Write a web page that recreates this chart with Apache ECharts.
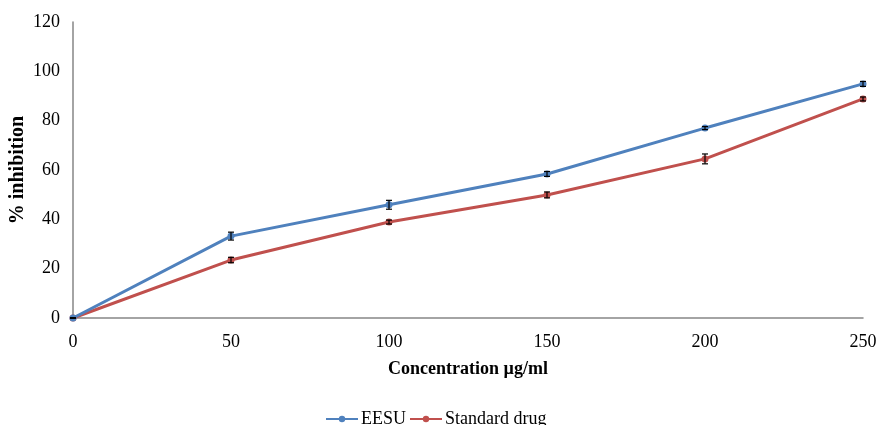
<!DOCTYPE html>
<html>
<head>
<meta charset="utf-8">
<script src="https://cdn.jsdelivr.net/npm/echarts@6/dist/echarts.min.js"></script>
<style>html,body{margin:0;padding:0;background:#fff}#c{width:876px;height:425px}</style>
</head>
<body>
<div id="c"></div>
<script>
var concentrations = [0, 50, 100, 150, 200, 250];
var eesuValues = [0, 33.2, 45.9, 58.4, 77.0, 94.9];
var eesuErrors = [0, 1.6, 1.8, 1.0, 0.6, 1.0];
var stdValues = [0, 23.5, 38.9, 49.9, 64.5, 88.8];
var stdErrors = [0, 1.1, 0.8, 1.2, 2.0, 0.8];
var yTicks = [0, 20, 40, 60, 80, 100, 120];
var xTicks = [0, 50, 100, 150, 200, 250];

var FONT = '"Liberation Serif", "Times New Roman", serif';
var chart = echarts.init(document.getElementById('c'));

function pairs(vals) { return concentrations.map(function (x, i) { return [x, vals[i]]; }); }
function errData(vals, errs) { return concentrations.map(function (x, i) { return [x, vals[i] - errs[i], vals[i] + errs[i]]; }); }
function errRender(params, api) {
  var x = api.value(0);
  var lo = api.coord([x, api.value(1)]);
  var hi = api.coord([x, api.value(2)]);
  var w = 3;
  var st = { stroke: '#000', lineWidth: 1.2 };
  return {
    type: 'group',
    children: [
      { type: 'line', shape: { x1: lo[0], y1: lo[1], x2: hi[0], y2: hi[1] }, style: st },
      { type: 'line', shape: { x1: lo[0] - w, y1: lo[1], x2: lo[0] + w, y2: lo[1] }, style: st },
      { type: 'line', shape: { x1: hi[0] - w, y1: hi[1], x2: hi[0] + w, y2: hi[1] }, style: st }
    ]
  };
}

chart.setOption({
  animation: false,
  backgroundColor: '#fff',
  grid: { left: 73, right: 13, top: 22, bottom: 107, containLabel: false, outerBoundsMode: 'none' },
  legend: {
    top: 405,
    left: 320,
    itemWidth: 32,
    itemHeight: 8,
    itemGap: 3,
    data: ['EESU', 'Standard drug'],
    textStyle: { fontFamily: FONT, fontSize: 18, color: '#000', padding: [0, 0, 0, -2] }
  },
  xAxis: {
    type: 'value',
    min: 0, max: 250, interval: 50,
    name: 'Concentration µg/ml',
    nameLocation: 'middle',
    nameGap: 42,
    nameMoveOverlap: false,
    nameTextStyle: { fontFamily: FONT, fontSize: 18, fontWeight: 'bold', color: '#000' },
    axisLine: { show: true, lineStyle: { color: '#868686', width: 1.5 } },
    axisTick: { show: false },
    splitLine: { show: false },
    axisLabel: {
      fontFamily: FONT, fontSize: 18, color: '#000', margin: 15,
      formatter: function (v) { return xTicks.indexOf(v) >= 0 ? String(v) : ''; }
    }
  },
  yAxis: {
    type: 'value',
    min: 0, max: 120, interval: 20,
    name: '% inhibition',
    nameLocation: 'middle',
    nameGap: 45,
    nameMoveOverlap: false,
    nameTextStyle: { fontFamily: FONT, fontSize: 20, fontWeight: 'bold', color: '#000' },
    axisLine: { show: true, lineStyle: { color: '#868686', width: 1.5 } },
    axisTick: { show: false },
    splitLine: { show: false },
    axisLabel: {
      fontFamily: FONT, fontSize: 18, color: '#000', margin: 13,
      formatter: function (v) { return yTicks.indexOf(v) >= 0 ? String(v) : ''; }
    }
  },
  series: [
    {
      name: 'EESU', type: 'line', data: pairs(eesuValues),
      symbol: 'circle', symbolSize: 7,
      itemStyle: { color: '#4F81BD' },
      lineStyle: { color: '#4F81BD', width: 3 },
      z: 3
    },
    {
      name: 'Standard drug', type: 'line', data: pairs(stdValues),
      symbol: 'circle', symbolSize: 7,
      itemStyle: { color: '#C0504D' },
      lineStyle: { color: '#C0504D', width: 3 },
      z: 2
    },
    { type: 'custom', renderItem: errRender, data: errData(eesuValues, eesuErrors), z: 5, silent: true },
    { type: 'custom', renderItem: errRender, data: errData(stdValues, stdErrors), z: 5, silent: true }
  ]
});
</script>
</body>
</html>
